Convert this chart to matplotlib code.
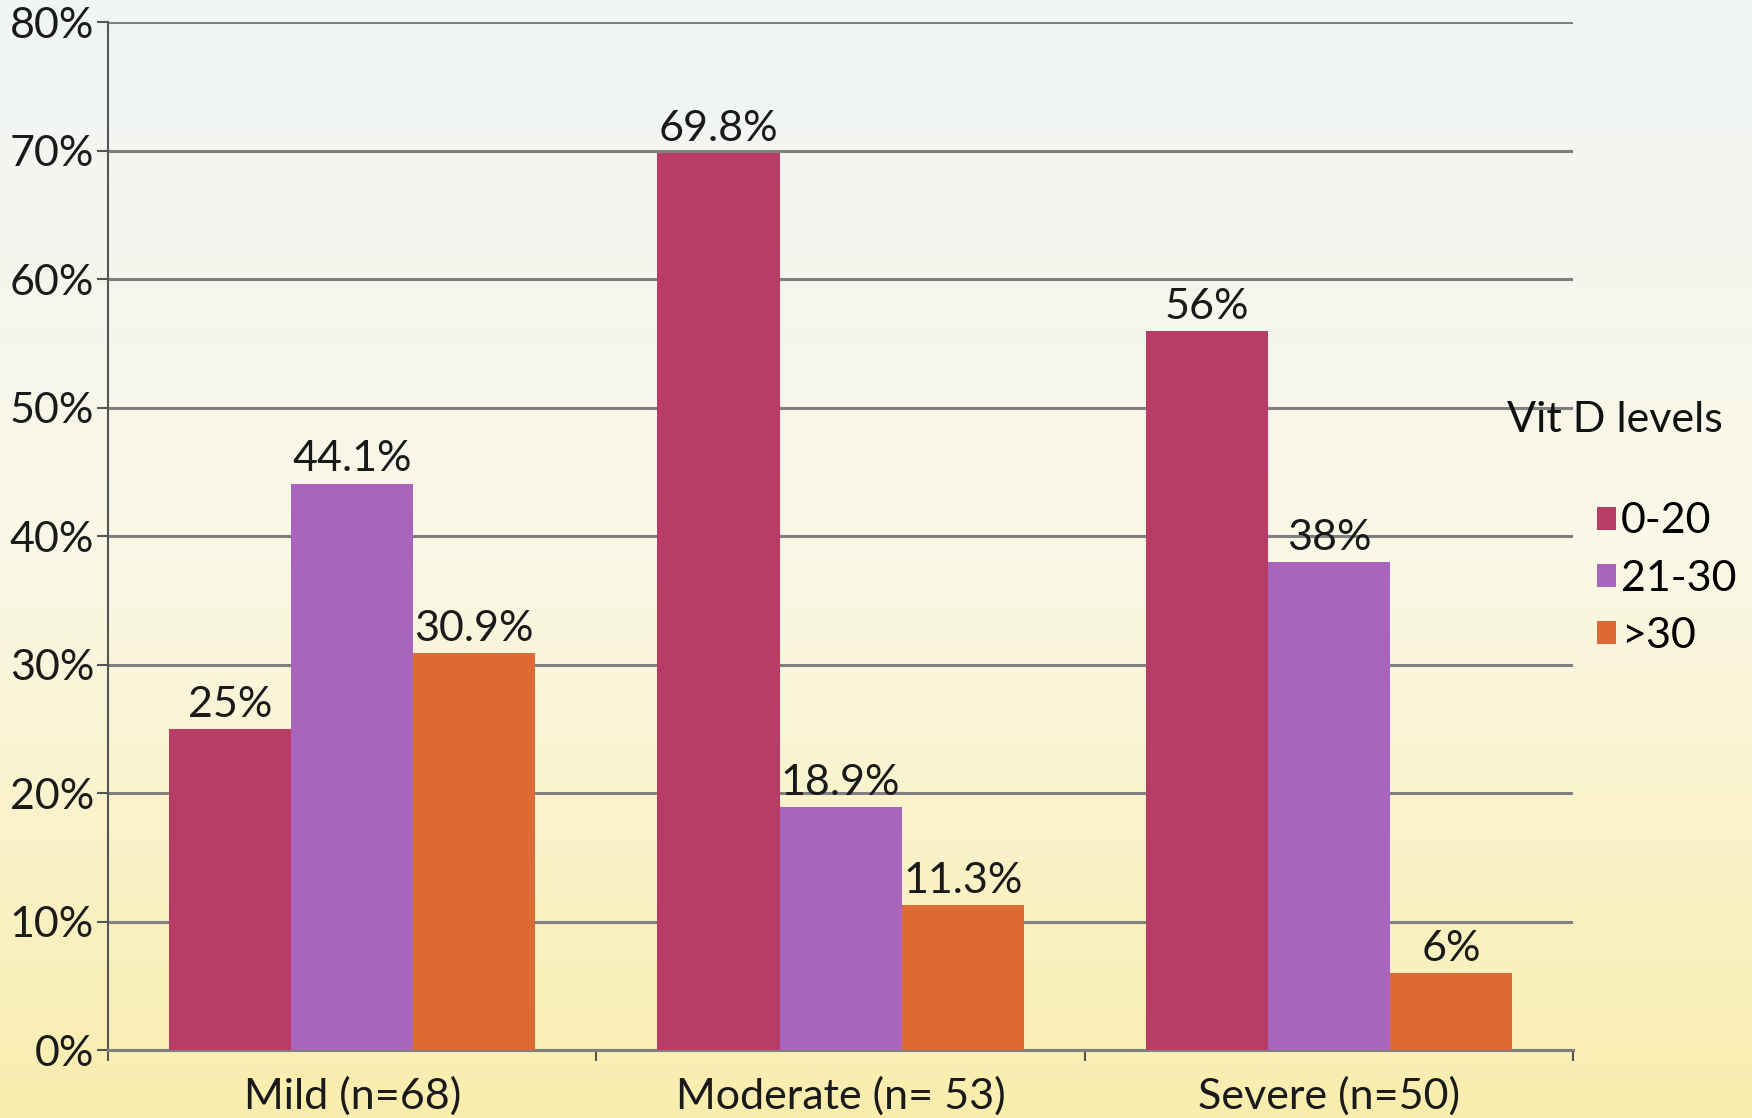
import numpy as np
import matplotlib.pyplot as plt
from matplotlib.patches import Patch

plt.rcParams['font.family'] = ['Lato', 'DejaVu Sans']

categories = ['Mild (n=68)', 'Moderate (n= 53)', 'Severe (n=50)']
series = ['0-20', '21-30', '>30']
vals_0_20 = [25, 69.8, 56]
vals_21_30 = [44.1, 18.9, 38]
vals_over_30 = [30.9, 11.3, 6]
labels_0_20 = ['25%', '69.8%', '56%']
labels_21_30 = ['44.1%', '18.9%', '38%']
labels_over_30 = ['30.9%', '11.3%', '6%']

colors = ['#b83c65', '#a965bc', '#dd6a35']
FS = 31
TXT = '#1a1a1a'

fig = plt.figure(figsize=(17.52, 11.18), dpi=100)

# soft vertical gradient behind everything
bg = fig.add_axes([0, 0, 1, 1], zorder=-10)
top = np.array([0.94, 0.96, 0.96])
mid = np.array([0.98, 0.97, 0.90])
bot = np.array([0.98, 0.93, 0.68])
t = np.linspace(0, 1, 256)[:, None]
grad = np.where(t < 0.5, top + (mid - top) * (t / 0.5), mid + (bot - mid) * ((t - 0.5) / 0.5))
bg.imshow(grad[:, None, :], aspect='auto', extent=[0, 1, 0, 1], origin='upper')
bg.axis('off')

ax = fig.add_axes([0.0616, 0.0608, 0.8364, 0.9192])
ax.patch.set_alpha(0)

x = np.arange(len(categories))
w = 0.25
all_vals = [vals_0_20, vals_21_30, vals_over_30]
all_labels = [labels_0_20, labels_21_30, labels_over_30]
for i, (vals, labs) in enumerate(zip(all_vals, all_labels)):
    pos = x + (i - 1) * w
    ax.bar(pos, vals, width=w, color=colors[i], zorder=3, linewidth=0)
    for p, v, lab in zip(pos, vals, labs):
        ax.text(p, v + 0.4, lab, ha='center', va='bottom', fontsize=FS, color=TXT)

ax.set_xlim(-0.5, 2.5)
ax.set_ylim(0, 80)
ax.set_yticks(range(0, 81, 10))
ax.set_yticklabels([f'{v}%' for v in range(0, 81, 10)], fontsize=FS, color=TXT)
ax.yaxis.grid(True, color='#808080', linewidth=2.2, zorder=1)
ax.set_axisbelow(True)

ax.set_xticks([-0.5, 0.5, 1.5, 2.5])
ax.set_xticklabels([])
ax.set_xticks(x, minor=True)
ax.set_xticklabels(categories, minor=True, fontsize=FS, color=TXT)
ax.tick_params(axis='x', which='major', length=8, width=1.5, color='#555555', direction='out')
ax.tick_params(axis='x', which='minor', length=0, pad=19)
ax.tick_params(axis='y', length=8, width=1.5, color='#555555', pad=2)

for s in ['top', 'right']:
    ax.spines[s].set_visible(False)
ax.spines['left'].set_color('#555555')
ax.spines['left'].set_linewidth(1.5)
ax.spines['bottom'].set_color('#808080')
ax.spines['bottom'].set_linewidth(2.2)

fig.text(0.9216, 0.624, 'Vit D levels', fontsize=FS, ha='center', va='center', color='#111111')
handles = [Patch(facecolor=c) for c in colors]
fig.legend(handles, series, loc='upper left', bbox_to_anchor=(0.9015, 0.566),
           frameon=False, fontsize=FS, handlelength=0.45, handleheight=0.45,
           handletextpad=0.12, labelspacing=0.45, borderaxespad=0)

fig.savefig('out.png', dpi=100)
